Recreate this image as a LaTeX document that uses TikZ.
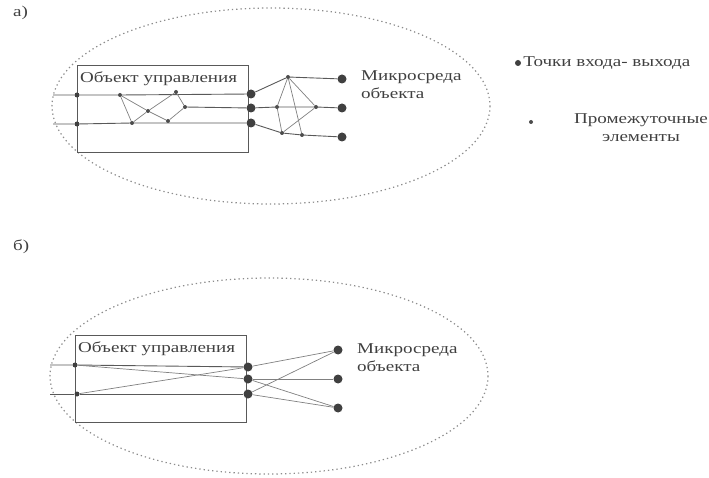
\documentclass[tikz,border=0pt]{standalone}
\usepackage{fontspec}
\setmainfont{Liberation Serif}
% widened lettering
\newcommand{\wtext}[1]{\scalebox{1.27}[1]{#1}}
\begin{document}
\begin{tikzpicture}[x=1pt,y=-1pt,
  wire/.style={draw=black!65, line width=0.9pt},
  thin wire/.style={draw=black!50, line width=0.7pt},
  frame/.style={draw=black!65, line width=0.9pt},
  zone/.style={draw=black!45, line width=1.2pt, dash pattern=on 1.3pt off 3pt},
  port/.style={circle, fill=black!75, inner sep=0pt, minimum size=9pt},
  inpt/.style={circle, fill=black!75, inner sep=0pt, minimum size=5pt},
  mid/.style={circle, fill=black!70, inner sep=0pt, minimum size=4pt},
  txt/.style={text=black!75, inner sep=0pt, font=\fontsize{15}{18}\selectfont},
]
\useasboundingbox (0,0) rectangle (709,478);

% ---------------- panel a ----------------
\node[txt, anchor=west] (la) at (13,13) {\wtext{а)}};
\draw[zone] (271,106) ellipse [x radius=219, y radius=98];
\node[frame, anchor=north west, minimum width=171pt, minimum height=87pt, inner sep=0pt] (boxa) at (77,65) {};
\node[txt, anchor=west] (tboxa) at (80,79) {\wtext{Объект управления}};

\coordinate (aL1) at (53,95);
\coordinate (aL2) at (53,124);
\node[inpt] (ai1) at (77,95) {};
\node[inpt] (ai2) at (77,124) {};
\node[port] (ad1) at (251,94) {};
\node[port] (ad2) at (251,108) {};
\node[port] (ad3) at (251,123) {};
\node[port] (ao1) at (342,79) {};
\node[port] (ao2) at (342,108) {};
\node[port] (ao3) at (342,137) {};

\node[mid] (ap1) at (120,95) {};
\node[mid] (ap2) at (176,92) {};
\node[mid] (ap3) at (185,107) {};
\node[mid] (ap4) at (148,111) {};
\node[mid] (ap5) at (132,123) {};
\node[mid] (ap6) at (168,121) {};

\node[mid] (aq1) at (288,77) {};
\node[mid] (aq2) at (277,107) {};
\node[mid] (aq3) at (316,107) {};
\node[mid] (aq4) at (282,133) {};
\node[mid] (aq5) at (302,135) {};

\draw[wire] (aL1) -- (ai1) -- (ap1) -- (ad1);
\draw[wire] (aL2) -- (ai2) -- (ap5) -- (ad3);
\draw[wire] (ap3) -- (ad2);
\draw[thin wire] (ap1) -- (ap5);
\draw[thin wire] (ap1) -- (ap4) -- (ap6);
\draw[thin wire] (ap5) -- (ap4) -- (ap2);
\draw[thin wire] (ap2) -- (ap3);
\draw[thin wire] (ap6) -- (ap3);

\draw[wire] (ad1) -- (aq1) -- (ao1);
\draw[wire] (ad2) -- (aq2) -- (aq3) -- (ao2);
\draw[wire] (ad3) -- (aq4) -- (aq5) -- (ao3);
\draw[thin wire] (aq1) -- (aq2) -- (aq4);
\draw[thin wire] (aq1) -- (aq3) -- (aq4);
\draw[thin wire] (aq1) -- (aq5);

\node[txt, anchor=west, align=left] (enva) at (361,85) {\wtext{Микросреда}\\\wtext{объекта}};

% legend
\node[circle, fill=black!75, inner sep=0pt, minimum size=6pt] (lg1) at (518,63) {};
\node[txt, anchor=west] (lgt1) at ([xshift=2pt]lg1.east) {\wtext{Точки входа- выхода}};
\node[mid] (lg2) at (531,122) {};
\node[txt, anchor=north, align=center] (lgt2) at (641,113) {\wtext{Промежуточные}\\\wtext{элементы}};

% ---------------- panel b ----------------
\node[txt, anchor=west] (lb) at (13,247) {\wtext{б)}};
\draw[zone] (269,376) ellipse [x radius=219, y radius=98];
\node[frame, anchor=north west, minimum width=171pt, minimum height=87pt, inner sep=0pt] (boxb) at (75,335) {};
\node[txt, anchor=west] (tboxb) at (78,349) {\wtext{Объект управления}};

\coordinate (bL1) at (50,365);
\coordinate (bL2) at (50,394);
\node[inpt] (bi1) at (75,365) {};
\node[inpt] (bi2) at (77,394) {};
\node[port] (bd1) at (248,367) {};
\node[port] (bd2) at (248,379) {};
\node[port] (bd3) at (248,394) {};
\node[port] (bo1) at (338,350) {};
\node[port] (bo2) at (338,379) {};
\node[port] (bo3) at (338,408) {};

\draw[wire] (bL1) -- (bi1) -- (bd1);
\draw[wire] (bL2) -- (bi2) -- (bd3);
\draw[thin wire] (bi1) -- (bd2);
\draw[thin wire] (bi2) -- (bd1);
\draw[thin wire] (bd1) -- (bo1);
\draw[thin wire] (bd2) -- (bo2);
\draw[thin wire] (bd2) -- (bo3);
\draw[thin wire] (bd3) -- (bo1);
\draw[thin wire] (bd3) -- (bo3);

\node[txt, anchor=west, align=left] (envb) at (357,358) {\wtext{Микросреда}\\\wtext{объекта}};
\end{tikzpicture}
\end{document}
